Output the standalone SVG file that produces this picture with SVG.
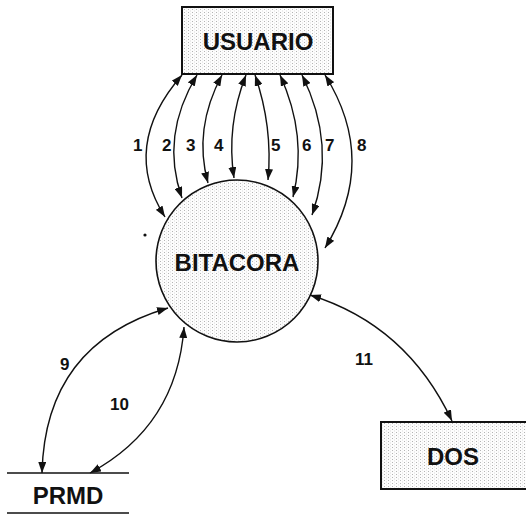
<svg xmlns="http://www.w3.org/2000/svg" width="526" height="514" viewBox="0 0 526 514">
  <style>
    .lbl { font-family: "Liberation Sans", Arial, Helvetica, sans-serif; font-weight: bold; fill: #111; }
    .name { font-size: 24px; text-anchor: middle; }
    .num { font-size: 17px; }
    .box { fill: url(#stipple); stroke: #111; stroke-width: 2; }
    .flow { fill: none; stroke: #111; stroke-width: 1.4; marker-start: url(#head); marker-end: url(#head); }
    .rule { stroke: #111; stroke-width: 1.6; }
  </style>
  <defs>
    <!-- light dotted screen used for shaded shapes -->
    <pattern id="stipple" width="4" height="3" patternUnits="userSpaceOnUse">
      <rect width="4" height="3" fill="#fdfdfd"/>
      <rect x="0" y="0" width="1" height="1" fill="#b4b4b4"/>
      <rect x="2" y="1.5" width="1" height="1" fill="#dcdcdc"/>
    </pattern>
    <marker id="head" viewBox="0 0 11 8" refX="11" refY="4" markerWidth="11" markerHeight="8" markerUnits="userSpaceOnUse" orient="auto-start-reverse">
      <path d="M0,0 L11,4 L0,8 Z" fill="#111"/>
    </marker>
  </defs>

  <!-- external entity: user -->
  <g id="usuario">
    <rect class="box" x="182" y="7" width="151" height="67"/>
    <text class="lbl name" x="258" y="50">USUARIO</text>
  </g>

  <!-- central process -->
  <g id="bitacora">
    <circle cx="237" cy="261" r="81" fill="url(#stipple)" stroke="#111" stroke-width="1.6"/>
    <text class="lbl name" x="237" y="271">BITACORA</text>
  </g>

  <!-- data store -->
  <g id="prmd">
    <line class="rule" x1="7" y1="473" x2="129" y2="473"/>
    <line class="rule" x1="7" y1="513" x2="129" y2="513"/>
    <text class="lbl name" x="68" y="504">PRMD</text>
  </g>

  <!-- external entity: operating system -->
  <g id="dos">
    <rect class="box" x="381" y="422" width="150" height="67"/>
    <text class="lbl name" x="453" y="465">DOS</text>
  </g>

  <!-- flows -->
  <g id="connectors">
    <path class="flow" d="M182,75 Q120,146 165,217"/>
    <path class="flow" d="M197,75 Q160,136 182,198"/>
    <path class="flow" d="M222,75 Q193,129 208,183"/>
    <path class="flow" d="M246,75 Q226,126 234,178"/>
    <path class="flow" d="M255,75 Q273,127 268,180"/>
    <path class="flow" d="M280,75 Q308,136 293,197"/>
    <path class="flow" d="M302,75 Q337,145 312,215"/>
    <path class="flow" d="M325,75 Q379,161 325,248"/>
    <path class="flow" d="M168,308 Q45,344 42,473"/>
    <path class="flow" d="M184,327 Q177,426 90,473"/>
    <path class="flow" d="M310,295 Q407,325 452,421"/>
  </g>

  <!-- flow numbers -->
  <g id="flow-labels">
    <text class="lbl num" x="133" y="151">1</text>
    <text class="lbl num" x="162" y="151">2</text>
    <text class="lbl num" x="186" y="151">3</text>
    <text class="lbl num" x="214" y="151">4</text>
    <text class="lbl num" x="271" y="151">5</text>
    <text class="lbl num" x="302" y="151">6</text>
    <text class="lbl num" x="325" y="151">7</text>
    <text class="lbl num" x="357" y="151">8</text>
    <text class="lbl num" x="60" y="370">9</text>
    <text class="lbl num" x="110" y="410">10</text>
    <text class="lbl num" x="355" y="365">11</text>
  </g>

  <!-- small mark left of the process -->
  <circle cx="145" cy="235" r="1.6" fill="#111"/>
</svg>
